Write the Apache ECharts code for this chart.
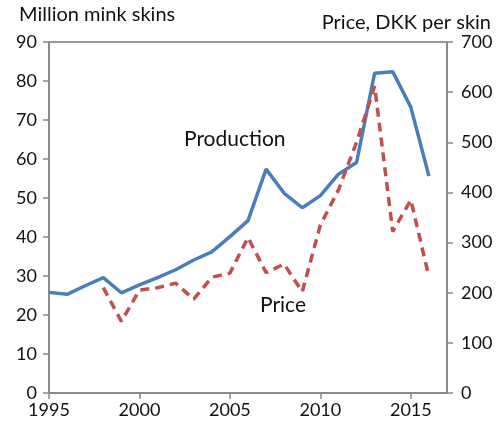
<!DOCTYPE html>
<html>
<head>
<meta charset="utf-8">
<script src="https://cdn.jsdelivr.net/npm/echarts@6/dist/echarts.min.js"></script>
<style>
  body { margin: 0; background: #fff; }
  #main { width: 501px; height: 431px; }
</style>
</head>
<body>
<div id="main"></div>
<script>
// mink production and skin price, Denmark
var years = [1995, 1996, 1997, 1998, 1999, 2000, 2001, 2002, 2003, 2004, 2005,
             2006, 2007, 2008, 2009, 2010, 2011, 2012, 2013, 2014, 2015, 2016];
var production = [25.8, 25.3, 27.5, 29.6, 25.7, 27.7, 29.6, 31.6, 34.1, 36.2, 40.1,
                  44.2, 57.4, 51.2, 47.5, 50.6, 56.1, 59.1, 82.0, 82.4, 73.3, 55.6];
var price = [null, null, null, 210, 143, 205, 210, 219, 187, 231, 239,
             310, 240, 257, 202, 335, 405, 500, 612, 322, 385, 232];

var font = 'Lato, "Open Sans", sans-serif';

function pairs(vals) {
  return years.map(function (y, i) { return [y, vals[i]]; });
}

var chart = echarts.init(document.getElementById('main'));
chart.setOption({
  animation: false,
  grid: {
    left: 49, right: 54, top: 42, bottom: 38,
    show: true, borderColor: '#333', borderWidth: 1
  },
  xAxis: {
    type: 'value', min: 1995, max: 2017, interval: 5,
    splitLine: { show: false },
    axisLine: { lineStyle: { color: '#888', width: 1.5 } },
    axisTick: { show: true, length: 6, lineStyle: { color: '#888', width: 1.5 } },
    axisLabel: {
      showMaxLabel: false, color: '#111', fontFamily: font, fontSize: 18, margin: 8,
      formatter: function (v) { return String(v); }
    }
  },
  yAxis: [{
    type: 'value', min: 0, max: 90, interval: 10,
    splitLine: { show: false },
    axisLine: { show: true, lineStyle: { color: '#888', width: 1.5 } },
    axisTick: { show: true, length: 6, lineStyle: { color: '#888', width: 1.5 } },
    axisLabel: { color: '#111', fontFamily: font, fontSize: 18, margin: 12 }
  }, {
    type: 'value', min: 0, max: 700, interval: 100, position: 'right',
    splitLine: { show: false },
    axisLine: { show: true, lineStyle: { color: '#888', width: 1.5 } },
    axisTick: { show: true, length: 6, lineStyle: { color: '#888', width: 1.5 } },
    axisLabel: { color: '#111', fontFamily: font, fontSize: 18, margin: 14 }
  }],
  graphic: [
    { type: 'text', left: 19, top: 5, style: { text: 'Million mink skins', font: '20px ' + font, fill: '#111' } },
    { type: 'text', right: 10, top: 13, style: { text: 'Price, DKK per skin', font: '20px ' + font, fill: '#111' } },
    { type: 'text', left: 184, top: 129, style: { text: 'Production', font: '21px ' + font, fill: '#111' } },
    { type: 'text', left: 260, top: 295, style: { text: 'Price', font: '21px ' + font, fill: '#111' } }
  ],
  series: [{
    name: 'Production', type: 'line', yAxisIndex: 0,
    data: pairs(production), symbol: 'none',
    lineStyle: { color: '#4a7ebb', width: 3.5 }
  }, {
    name: 'Price', type: 'line', yAxisIndex: 1,
    data: pairs(price), symbol: 'none',
    lineStyle: { color: '#c0504d', width: 3.5, type: [9, 6] }
  }]
});
</script>
</body>
</html>
